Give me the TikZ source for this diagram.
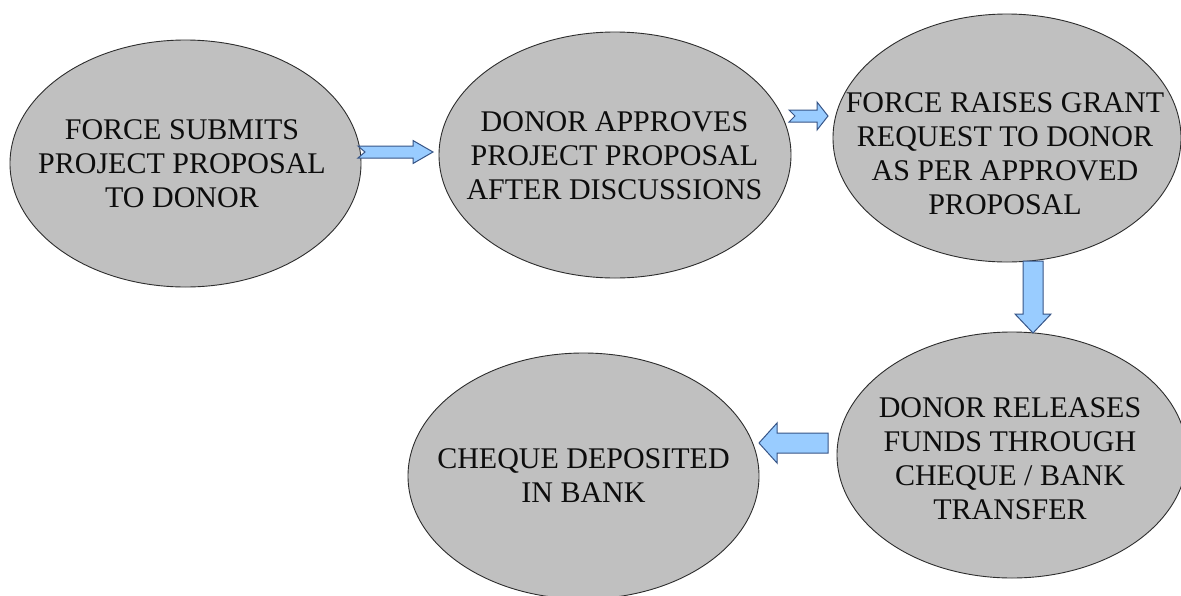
\documentclass[tikz,border=0pt]{standalone}
\usepackage{fontspec}
\setmainfont{Liberation Serif}
\usetikzlibrary{shapes.geometric,calc}
\definecolor{blobfill}{RGB}{192,192,192}
\definecolor{blobline}{RGB}{45,45,45}
\definecolor{arrfill}{RGB}{153,204,255}
\definecolor{arrline}{RGB}{55,85,135}
\begin{document}
\begin{tikzpicture}[x=1pt,y=-1pt,
  blob/.style={ellipse, draw=blobline, fill=blobfill, line width=0.9pt, inner sep=0pt},
  txt/.style={align=center, font=\fontsize{30}{34}\selectfont, text=black!95, inner sep=0pt},
  blockarr/.style={draw=arrline, fill=arrfill, line width=1pt, line join=miter}]
\useasboundingbox (0,0) rectangle (1181,595);
\clip (0,0) rectangle (1181,595);
\fill[white] (0,0) rectangle (1181,595);
% ellipses
\node[blob, minimum width=351pt, minimum height=247pt] (e1) at (185.5,163.5) {};
\node[blob, minimum width=352pt, minimum height=246pt] (e2) at (615,155) {};
\node[blob, minimum width=348pt, minimum height=248pt] (e3) at (1007,138) {};
\node[blob, minimum width=350pt, minimum height=246pt] (e4) at (1012,455) {};
\node[blob, minimum width=351pt, minimum height=246pt] (e5) at (583.5,476) {};
% texts
\node[txt] (t1) at (182,164) {FORCE SUBMITS\\PROJECT PROPOSAL\\TO DONOR};
\node[txt] (t2) at (614.5,156) {DONOR APPROVES\\PROJECT PROPOSAL\\AFTER DISCUSSIONS};
\node[txt] (t3) at (1005,154) {FORCE RAISES GRANT\\REQUEST TO DONOR\\AS PER APPROVED\\PROPOSAL};
\node[txt] (t4) at (1010,459) {DONOR RELEASES\\FUNDS THROUGH\\CHEQUE / BANK\\TRANSFER};
\node[txt] (t5) at (583.5,476) {CHEQUE DEPOSITED\\IN BANK};
% arrow end points
\coordinate (a1s) at (358,152);
\coordinate (a1e) at (433,152);
\coordinate (a2s) at (789,116);
\coordinate (a2e) at (828,116);
\coordinate (a3s) at (1033,261);
\coordinate (a3e) at (1033,333);
\coordinate (a4s) at (828,443);
\coordinate (a4e) at (759,443);
% block arrows
\draw[blockarr] ($(a1s)+(0,-6)$) -- ($(a1e)+(-20,-6)$) -- ($(a1e)+(-20,-11.5)$) -- (a1e)
  -- ($(a1e)+(-20,11.5)$) -- ($(a1e)+(-20,6)$) -- ($(a1s)+(0,6)$) -- ($(a1s)+(7,0)$) -- cycle;
\draw[blockarr] ($(a2s)+(0,-6)$) -- ($(a2e)+(-11,-6)$) -- ($(a2e)+(-11,-14)$) -- (a2e)
  -- ($(a2e)+(-11,14)$) -- ($(a2e)+(-11,6)$) -- ($(a2s)+(0,6)$) -- ($(a2s)+(6,0)$) -- cycle;
\draw[blockarr] ($(a3s)+(-10,0)$) -- ($(a3e)+(-10,-19)$) -- ($(a3e)+(-18,-19)$) -- (a3e)
  -- ($(a3e)+(18,-19)$) -- ($(a3e)+(10,-19)$) -- ($(a3s)+(10,0)$) -- cycle;
\draw[blockarr] ($(a4s)+(0,-10)$) -- ($(a4e)+(18,-10)$) -- ($(a4e)+(18,-20)$) -- (a4e)
  -- ($(a4e)+(18,20)$) -- ($(a4e)+(18,10)$) -- ($(a4s)+(0,10)$) -- cycle;
\end{tikzpicture}
\end{document}
